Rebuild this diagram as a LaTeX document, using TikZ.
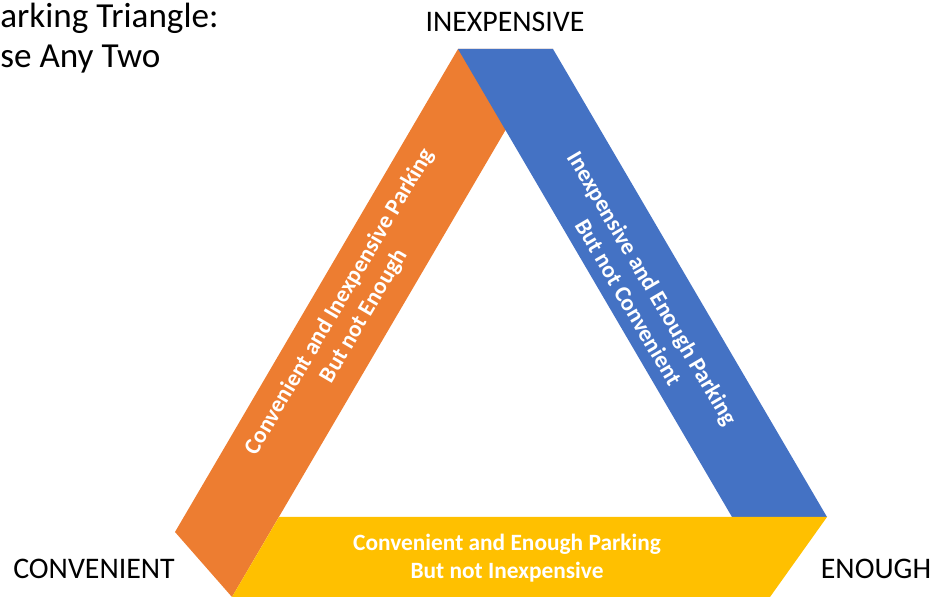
\documentclass[tikz,border=0pt]{standalone}
\usepackage{fontspec}
\setmainfont{Carlito}
\usepackage{xcolor}
\usetikzlibrary{calc}

\definecolor{bandorange}{HTML}{ED7D31}
\definecolor{bandblue}{HTML}{4472C4}
\definecolor{bandyellow}{HTML}{FFC000}

\tikzset{
  headline/.style={font=\fontsize{20}{24}\selectfont, inner sep=0pt},
  corner/.style={font=\fontsize{17}{20}\selectfont, inner sep=0pt},
  bandtext/.style={text=white, font=\bfseries\fontsize{13.3}{16}\selectfont, align=center, inner sep=0pt}
}

\begin{document}
\begin{tikzpicture}[x=0.02cm, y=-0.02cm]

% Frame
\useasboundingbox (0, 0) rectangle (940, 597);

% Bands
\fill[bandorange] (458, 49) -- (553, 49) -- (232, 597) -- (175, 532) -- cycle;
\fill[bandblue] (458, 49) -- (553, 49) -- (827, 517) -- (732, 517) -- cycle;
\fill[bandyellow] (279, 517) -- (827, 517) -- (770, 597) -- (232, 597) -- cycle;

% Title
\node[headline, anchor=base west] (titleone) at (0, 28) {arking Triangle:};
\node[headline, anchor=base west] (titletwo) at (0, 68) {se Any Two};

% Corners
\node[corner, anchor=base] (inexpensive) at (505, 32) {INEXPENSIVE};
\node[corner, anchor=base] (convenient) at (94, 579) {CONVENIENT};
\node[corner, anchor=base] (enough) at (876, 579) {ENOUGH};

% Band labels
\node[bandtext, rotate=59.6] (notenough) at (352, 309) {Convenient and Inexpensive Parking\\But not Enough};
\node[bandtext, rotate=-59.6] (notconvenient) at (641, 295) {Inexpensive and Enough Parking\\But not Convenient};
\node[bandtext] (notinexpensive) at (507, 558) {Convenient and Enough Parking\\But not Inexpensive};

\end{tikzpicture}
\end{document}
